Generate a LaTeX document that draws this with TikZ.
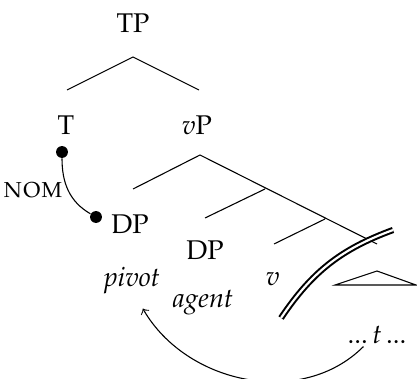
\documentclass[tikz,border=0pt]{standalone}
\usepackage[T1]{fontenc}
\usepackage{mathpazo}
\usetikzlibrary{arrows}

\begin{document}
\begin{tikzpicture}[x=0.13cm,y=0.13cm,
    lbl/.style={anchor=base,inner sep=1pt},
    dot/.style={circle,fill,inner sep=0pt,minimum size=4.4pt}]
          \useasboundingbox (0,0) rectangle (41.7,37.8);
          % labels
          \node[lbl] (tp) at (13.3,34.5) {TP};
          \node[lbl] (t) at (6.6,24.3) {T};
          \node[lbl] (vp) at (19.7,24.3) {\textit{v}P};
          \node[lbl] (dpa) at (13.0,14.5) {DP};
          \node[lbl] (dpb) at (20.5,11.9) {DP};
          \node[lbl] (pivot) at (13.2,9.2) {\textit{pivot}};
          \node[lbl] (agent) at (20.3,7.1) {\textit{agent}};
          \node[lbl] (v) at (27.3,9.3) {\textit{v}};
          \node[lbl] (trace) at (37.7,3.5) {...\,\textit{t}\,...};
          \node[lbl] (nom) at (3.3,18.1) {\textsc{nom}};
          % branches
          \coordinate (tpa) at (13.3,32.1);
          \coordinate (tpl) at (6.7,28.8);
          \coordinate (tpr) at (19.9,28.8);
          \coordinate (vpa) at (20.0,22.3);
          \coordinate (vpl) at (13.3,18.9);
          \coordinate (ja) at (26.5,18.9);
          \coordinate (jal) at (20.5,16.0);
          \coordinate (jb) at (32.5,15.9);
          \coordinate (jbl) at (27.4,13.4);
          \coordinate (spe) at (37.7,13.4);
          \draw (tpl) -- (tpa) -- (tpr)
                (vpl) -- (vpa) -- (spe)
                (ja) -- (jal)
                (jb) -- (jbl);
          % triangle
          \coordinate (tria) at (37.7,10.7);
          \coordinate (tril) at (33.5,9.3);
          \coordinate (trir) at (41.6,9.3);
          \draw (tril) -- (tria) -- (trir) -- cycle;
          % phase edge
          \coordinate (cuta) at (28.1,6.0);
          \coordinate (cutb) at (39.3,14.8);
          \draw[double,line width=0.75pt,double distance=0.8pt]
                (cuta) to[bend left=18] (cutb);
          % case
          \node[dot] (tdot) at (6.2,22.6) {};
          \node[dot] (dpdot) at (9.6,16.1) {};
          \draw (tdot) to[out=-90,in=150] (dpdot);
          % movement
          \coordinate (mvsrc) at ([xshift=-5pt]trace.south);
          \coordinate (mvtgt) at ([shift={(4pt,-4.4pt)}]pivot.south);
          \draw[->] (mvsrc) to[out=-135,in=-60] (mvtgt);
        \end{tikzpicture}
\end{document}
